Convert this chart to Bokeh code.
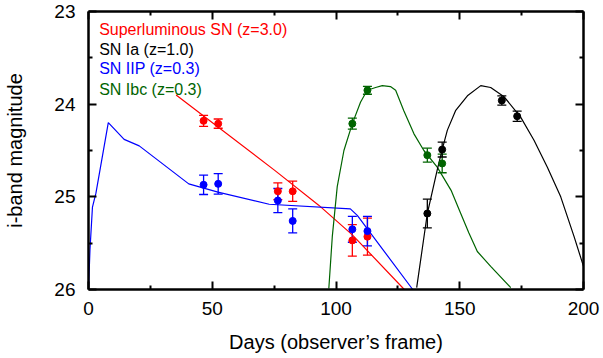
from bokeh.plotting import figure
from bokeh.models import Range1d, LinearAxis, FixedTicker, Whisker, TeeHead, ColumnDataSource
from bokeh.core.properties import value
from bokeh.embed import file_html
from bokeh.resources import INLINE

# ---------------- data ----------------
x_ticks = [0, 50, 100, 150, 200]
x_minor = [25, 75, 125, 175]
y_ticks = [23, 24, 25, 26]
y_minor = [23.5, 24.5, 25.5]

legend_labels = ["Superluminous SN (z=3.0)", "SN Ia (z=1.0)", "SN IIP (z=0.3)", "SN Ibc (z=0.3)"]
legend_colors = ["#ff0000", "#000000", "#0000ff", "#006400"]

# model light curves
slsn_model_day = [35.4, 75.5, 93.0, 106.6, 127.6]
slsn_model_mag = [23.90, 24.72, 25.09, 25.41, 26.00]

iip_model_day = [0.0, 0.6, 1.6, 3.0, 8.0, 14.4, 20.5, 40.5, 52.3, 73.0, 105.8, 108.6, 131.0]
iip_model_mag = [26.0, 25.57, 25.11, 24.96, 24.20, 24.38, 24.45, 24.86, 24.95, 25.08, 25.13, 25.20, 26.0]

ibc_model_day = [97.1, 98.5, 100.5, 103.2, 106.6, 109.9, 112.6, 116.0, 118.7, 122.0, 124.1,
                 127.4, 131.5, 135.5, 140.9, 146.5, 150.4, 153.7, 157.1, 162.5, 170.6]
ibc_model_mag = [25.99, 25.43, 24.89, 24.50, 24.21, 23.98, 23.85, 23.82, 23.80, 23.81, 23.85,
                 24.07, 24.32, 24.50, 24.68, 24.93, 25.18, 25.39, 25.59, 25.75, 25.98]

ia_model_day = [132.6, 136.9, 140.9, 143.0, 145.0, 148.3, 153.1, 158.5, 162.5, 167.9, 174.6,
                180.0, 185.4, 190.8, 196.2, 200.0]
ia_model_mag = [25.98, 25.18, 24.71, 24.48, 24.28, 24.07, 23.91, 23.80, 23.82, 23.92, 24.14,
                24.39, 24.68, 25.00, 25.43, 25.75]

# observed points
slsn_day = [46.5, 52.4, 76.5, 82.5, 106.6, 112.7]
slsn_mag = [24.18, 24.21, 24.94, 24.94, 25.47, 25.43]
slsn_err = [0.06, 0.05, 0.09, 0.11, 0.17, 0.20]

iip_day = [46.5, 52.4, 76.5, 82.5, 106.6, 112.7]
iip_mag = [24.87, 24.86, 25.04, 25.26, 25.35, 25.37]
iip_err = [0.105, 0.11, 0.13, 0.13, 0.14, 0.16]

ibc_day = [106.6, 112.7, 136.9, 142.9]
ibc_mag = [24.21, 23.85, 24.55, 24.64]
ibc_err = [0.06, 0.043, 0.075, 0.10]

ia_day = [136.9, 142.9, 167.0, 173.2]
ia_mag = [25.18, 24.49, 23.96, 24.13]
ia_err = [0.155, 0.08, 0.05, 0.055]

legend_x = [4.3, 4.3, 4.3, 4.3]
legend_y = [23.19, 23.41, 23.62, 23.84]

# ---------------- figure ----------------
FONT = "Liberation Sans"
p = figure(width=603, height=358, x_range=Range1d(0, 200), y_range=Range1d(26, 23),
           output_backend="svg", toolbar_location=None,
           min_border_left=88, min_border_right=20, min_border_top=11, min_border_bottom=69,
           x_axis_label="Days (observer\u2019s frame)", y_axis_label="i-band magnitude")
p.outline_line_color = None
p.xgrid.visible = False
p.ygrid.visible = False
p.background_fill_color = "white"
p.border_fill_color = "white"

xt = FixedTicker(ticks=x_ticks, minor_ticks=x_minor)
yt = FixedTicker(ticks=y_ticks, minor_ticks=y_minor)


def style_axis(ax, show_labels):
    ax.axis_line_width = 2.5
    ax.axis_line_color = "black"
    ax.major_tick_in = 8
    ax.major_tick_out = 0
    ax.minor_tick_in = 4
    ax.minor_tick_out = 0
    ax.major_tick_line_width = 2
    ax.minor_tick_line_width = 2
    ax.major_tick_line_color = "black"
    ax.minor_tick_line_color = "black"
    if show_labels:
        ax.major_label_text_font = FONT
        ax.major_label_text_font_size = "19px"
        ax.major_label_text_color = "black"
        ax.axis_label_text_font = FONT
        ax.axis_label_text_font_size = "20px"
        ax.axis_label_text_font_style = "normal"
        ax.axis_label_text_color = "black"
    else:
        ax.major_label_text_font_size = "1px"
        ax.major_label_text_color = None
        ax.major_label_standoff = 0


p.xaxis.ticker = xt
p.yaxis.ticker = yt
style_axis(p.xaxis[0], True)
style_axis(p.yaxis[0], True)
p.xaxis.major_label_standoff = 12
p.xaxis.axis_label_standoff = 13
p.yaxis.major_label_standoff = 13
p.yaxis.axis_label_standoff = 25

top = LinearAxis(ticker=xt)
right = LinearAxis(ticker=yt)
style_axis(top, False)
style_axis(right, False)
p.add_layout(top, "above")
p.add_layout(right, "right")

series = [
    (slsn_model_day, slsn_model_mag, slsn_day, slsn_mag, slsn_err, "#ff0000"),
    (iip_model_day, iip_model_mag, iip_day, iip_mag, iip_err, "#0000ff"),
    (ibc_model_day, ibc_model_mag, ibc_day, ibc_mag, ibc_err, "#006400"),
    (ia_model_day, ia_model_mag, ia_day, ia_mag, ia_err, "#000000"),
]

for mday, mmag, d, m, e, c in series:
    p.line(mday, mmag, line_color=c, line_width=1.2)

for mday, mmag, d, m, e, c in series:
    src = ColumnDataSource(dict(x=d, y=m,
                                lo=[a - b for a, b in zip(m, e)],
                                hi=[a + b for a, b in zip(m, e)]))
    w = Whisker(source=src, base="x", upper="hi", lower="lo", line_color=c, line_width=1.3,
                upper_head=TeeHead(size=9, line_color=c, line_width=1.3),
                lower_head=TeeHead(size=9, line_color=c, line_width=1.3))
    p.add_layout(w)
    p.scatter("x", "y", source=src, size=7, fill_color=c, line_color=c)

p.text(x=legend_x, y=legend_y, text=legend_labels, text_color=legend_colors,
       text_font=value(FONT), text_font_size="16px", text_baseline="middle", text_align="left")

open("out.html", "w").write(file_html(p, INLINE))
